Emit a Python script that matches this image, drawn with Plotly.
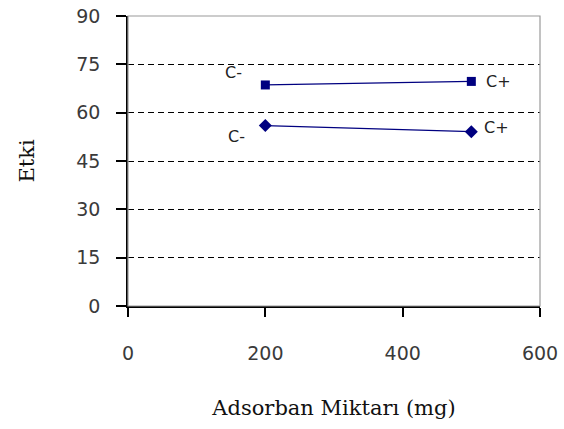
import plotly.graph_objects as go

# Adsorbent amount (mg) and effect values for the two conditions
x_vals = [200, 500]
effect_square = [68.6, 69.7]
effect_diamond = [56.0, 54.1]
point_labels = ["C-", "C+"]

x_ticks = [0, 200, 400, 600]
y_ticks = [0, 15, 30, 45, 60, 75, 90]

navy = "#000080"
tick_font = dict(family="DejaVu Sans, Arial, sans-serif", size=19, color="#3a3a3a")
title_font = dict(family="DejaVu Serif, Liberation Serif, serif", size=21, color="#111111")
label_font = dict(family="DejaVu Sans, Arial, sans-serif", size=16, color="#222222")

fig = go.Figure()

for values, symbol, msize in [(effect_square, "square", 9), (effect_diamond, "diamond", 10)]:
    fig.add_trace(go.Scatter(
        x=x_vals, y=values,
        mode="lines+markers",
        line=dict(color=navy, width=1.2),
        marker=dict(symbol=symbol, size=msize, color=navy),
        showlegend=False,
    ))

# point labels: C- beside the left point, C+ beside the right point
label_offsets = {
    "square": [(-32, 12), (27, 0)],
    "diamond": [(-29, -11), (25, 4)],
}
for values, key in [(effect_square, "square"), (effect_diamond, "diamond")]:
    for xv, yv, txt, (dx, dy) in zip(x_vals, values, point_labels, label_offsets[key]):
        fig.add_annotation(x=xv, y=yv, text=txt, showarrow=False,
                           xshift=dx, yshift=dy, font=label_font)

# grey frame along the top and right edges of the plot area
fig.add_shape(type="rect", xref="x domain", yref="y domain",
              x0=0, x1=1, y0=0, y1=1,
              line=dict(color="#9a9a9a", width=1.2), layer="above")

fig.update_xaxes(
    range=[0, 600], tickvals=x_ticks, automargin=False,
    showgrid=False, zeroline=False,
    showline=True, linecolor="black", linewidth=1.5,
    ticks="outside", ticklen=9, tickwidth=1.5, tickcolor="black",
    tickfont=tick_font, ticklabelstandoff=20,
    title=dict(text="Adsorban Miktarı (mg)", font=title_font, standoff=38),
)

fig.update_yaxes(
    range=[0, 90], tickvals=y_ticks, automargin=False,
    showgrid=True, gridcolor="black", gridwidth=1, griddash="6px,4px",
    zeroline=False,
    showline=True, linecolor="black", linewidth=1.5,
    ticks="outside", ticklen=10, tickwidth=1.5, tickcolor="black",
    tickfont=tick_font, ticklabelstandoff=12,
    title=dict(text="Etki", font=title_font, standoff=36),
)

fig.update_layout(
    width=564, height=429,
    margin=dict(l=128, r=24, t=16, b=123),
    paper_bgcolor="white", plot_bgcolor="white",
)

fig.write_html("out.html")
